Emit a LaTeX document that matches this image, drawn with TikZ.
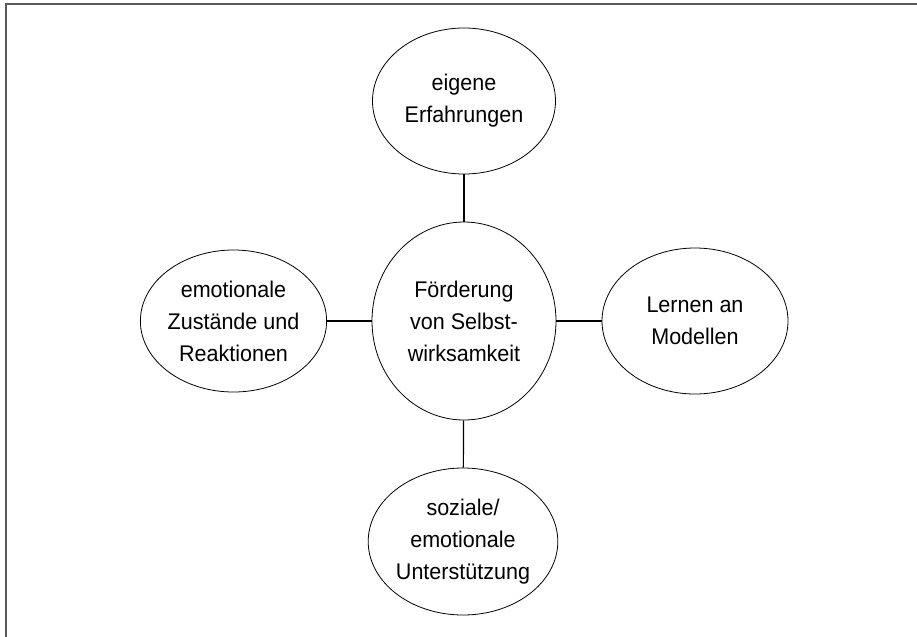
\documentclass[tikz,border=0pt]{standalone}
\usepackage{fontspec}
\setmainfont{Liberation Sans}[FakeStretch=0.95]
\usetikzlibrary{shapes.geometric}
\definecolor{framegray}{gray}{0.35}
\tikzset{bubble/.style={draw,ellipse,line width=0.6pt,inner sep=0pt,align=center,font=\fontsize{17}{24}\selectfont}}
\tikzset{spoke/.style={line width=0.9pt}}

\begin{document}
\begin{tikzpicture}[x=0.75pt,y=-0.75pt]
	\useasboundingbox (0,0) rectangle (917,636);
	\draw[framegray,line width=1.5pt] (5.5,645) -- (5.5,4) -- (925,4);

	\node[bubble,minimum width=138pt,minimum height=148.5pt] (hub) at (464,321)
		{Förderung\\von Selbst-\\wirksamkeit};
	\node[bubble,minimum width=137.25pt,minimum height=109.5pt] (top) at (464,101)
		{eigene\\Erfahrungen};
	\node[bubble,minimum width=137.25pt,minimum height=106.5pt] (left) at (233.5,321)
		{emotionale\\Zustände und\\Reaktionen};
	\node[bubble,minimum width=139.5pt,minimum height=109.5pt] (right) at (695,321)
		{Lernen an\\Modellen};
	\node[bubble,minimum width=132pt,minimum height=110.25pt] (bottom) at (463,541.5)
		{soziale/\\emotionale\\Unterstützung};

	\foreach \n in {top,left,right,bottom}{
		\draw[spoke] (\n) -- (hub);
	}
\end{tikzpicture}
\end{document}
